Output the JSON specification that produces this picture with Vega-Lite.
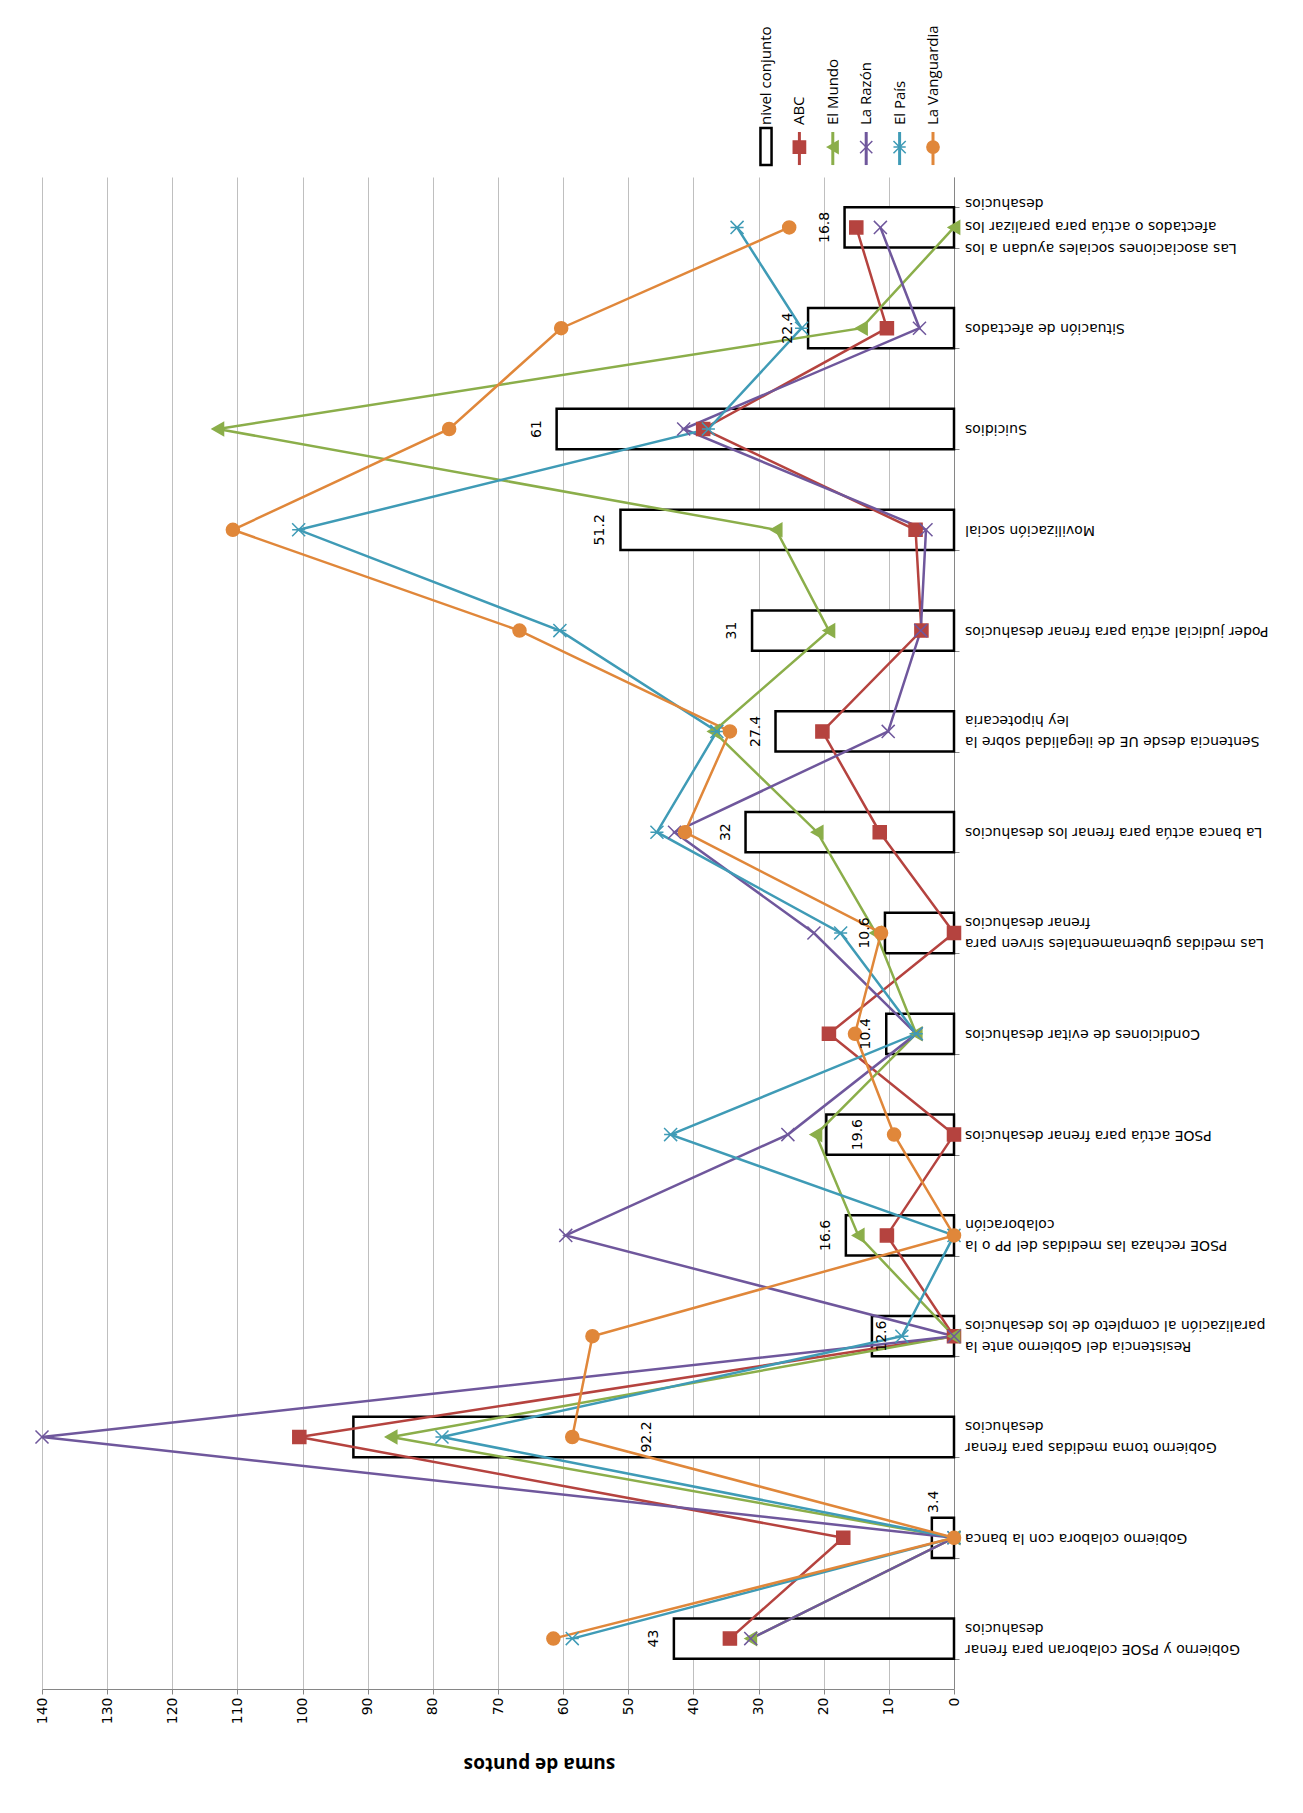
{
  "$schema": "https://vega.github.io/schema/vega-lite/v6.json",
  "background": "white",
  "padding": {"left": 32, "top": 15, "right": 5, "bottom": 5},
  "spacing": 7,
  "config": {"view": {"stroke": null}},
  "resolve": {"scale": {"x": "independent", "y": "independent"}},
  "datasets": {
    "cats": [
      {"n": 1, "lab": ["Gobierno y PSOE colaboran para frenar", "desahucios"], "nivel": 43, "ABC": 34.4, "El Mundo": 31.2, "La Razón": 31.2, "El País": 58.6, "La Vanguardia": 61.5},
      {"n": 2, "lab": ["Gobierno colabora con la banca"], "nivel": 3.4, "ABC": 17, "El Mundo": 0, "La Razón": 0, "El País": 0, "La Vanguardia": 0},
      {"n": 3, "lab": ["Gobierno toma medidas para frenar", "desahucios"], "nivel": 92.2, "ABC": 100.5, "El Mundo": 86.4, "La Razón": 140, "El País": 78.6, "La Vanguardia": 58.6},
      {"n": 4, "lab": ["Resistencia del Gobierno ante la", "paralización al completo de los desahucios"], "nivel": 12.6, "ABC": 0, "El Mundo": 0, "La Razón": 0, "El País": 8, "La Vanguardia": 55.5},
      {"n": 5, "lab": ["PSOE rechaza las medidas del PP o la", "colaboración"], "nivel": 16.6, "ABC": 10.3, "El Mundo": 14.7, "La Razón": 59.6, "El País": 0, "La Vanguardia": 0},
      {"n": 6, "lab": ["PSOE actúa para frenar desahucios"], "nivel": 19.6, "ABC": 0, "El Mundo": 21.2, "La Razón": 25.5, "El País": 43.5, "La Vanguardia": 9.2},
      {"n": 7, "lab": ["Condiciones de evitar desahucios"], "nivel": 10.4, "ABC": 19.2, "El Mundo": 5.8, "La Razón": 5.8, "El País": 5.8, "La Vanguardia": 15.2},
      {"n": 8, "lab": ["Las medidas gubernamentales sirven para", "frenar desahucios"], "nivel": 10.6, "ABC": 0, "El Mundo": 12, "La Razón": 21.5, "El País": 17.4, "La Vanguardia": 11.2},
      {"n": 9, "lab": ["La banca actúa para frenar los desahucios"], "nivel": 32, "ABC": 11.4, "El Mundo": 21, "La Razón": 42.9, "El País": 45.6, "La Vanguardia": 41.3},
      {"n": 10, "lab": ["Sentencia desde UE de ilegalidad sobre la", "ley hipotecaria"], "nivel": 27.4, "ABC": 20.2, "El Mundo": 36.9, "La Razón": 10.1, "El País": 36.4, "La Vanguardia": 34.4},
      {"n": 11, "lab": ["Poder judicial actúa para frenar desahucios"], "nivel": 31, "ABC": 5, "El Mundo": 19.2, "La Razón": 5.1, "El País": 60.5, "La Vanguardia": 66.7},
      {"n": 12, "lab": ["Movilización social"], "nivel": 51.2, "ABC": 5.9, "El Mundo": 27.3, "La Razón": 4.3, "El País": 100.6, "La Vanguardia": 110.7},
      {"n": 13, "lab": ["Suicidios"], "nivel": 61, "ABC": 38.5, "El Mundo": 113, "La Razón": 41.5, "El País": 37.7, "La Vanguardia": 77.5},
      {"n": 14, "lab": ["Situación de afectados"], "nivel": 22.4, "ABC": 10.3, "El Mundo": 14.2, "La Razón": 5.3, "El País": 23.4, "La Vanguardia": 60.3},
      {"n": 15, "lab": ["Las asociaciones sociales ayudan a los", "afectados o actúa para paralizar los", "desahucios"], "nivel": 16.8, "ABC": 15, "El Mundo": 0, "La Razón": 11.3, "El País": 33.3, "La Vanguardia": 25.3}
    ],
    "series": [
      {"serie": "nivel conjunto"},
      {"serie": "ABC"},
      {"serie": "El Mundo"},
      {"serie": "La Razón"},
      {"serie": "El País"},
      {"serie": "La Vanguardia"}
    ]
  },
  "vconcat": [
    {
      "width": 912,
      "height": 155,
      "data": {"name": "series"},
      "encoding": {
        "x": {
          "field": "serie",
          "type": "nominal",
          "axis": null,
          "scale": {
            "type": "point",
            "domain": ["nivel conjunto", "ABC", "El Mundo", "La Razón", "El País", "La Vanguardia"],
            "range": [724, 891],
            "padding": 0
          }
        }
      },
      "layer": [
        {
          "transform": [{"filter": "datum.serie !== 'nivel conjunto'"}],
          "mark": {"type": "rule", "strokeWidth": 3},
          "encoding": {
            "y": {"datum": 0.032, "type": "quantitative", "scale": {"domain": [0, 1]}, "axis": null},
            "y2": {"datum": 0.245},
            "stroke": {
              "field": "serie",
              "type": "nominal",
              "legend": null,
              "scale": {"domain": ["ABC", "El Mundo", "La Razón", "El País", "La Vanguardia"], "range": ["#B5433F", "#8BAE4A", "#6F579C", "#3F9BB6", "#E0873A"]}
            }
          }
        },
        {
          "transform": [{"filter": "datum.serie !== 'nivel conjunto'"}],
          "mark": {"type": "point", "filled": true, "size": 150, "strokeWidth": 1.5, "opacity": 1},
          "encoding": {
            "y": {"datum": 0.148, "type": "quantitative", "scale": {"domain": [0, 1]}, "axis": null},
            "fill": {
              "field": "serie",
              "type": "nominal",
              "legend": null,
              "scale": {"domain": ["ABC", "El Mundo", "La Razón", "El País", "La Vanguardia"], "range": ["#B5433F", "#8BAE4A", "#6F579C", "#3F9BB6", "#E0873A"]}
            },
            "stroke": {"field": "serie", "type": "nominal", "legend": null},
            "shape": {
              "field": "serie",
              "type": "nominal",
              "legend": null,
              "scale": {"domain": ["ABC", "El Mundo", "La Razón", "El País", "La Vanguardia"], "range": ["square", "triangle-left", "M-1,-1L1,1M1,-1L-1,1", "M-1,-1L1,1M1,-1L-1,1M-1,0L1,0", "circle"]}
            }
          }
        },
        {
          "transform": [{"filter": "datum.serie === 'nivel conjunto'"}],
          "mark": {"type": "point", "shape": "M-0.3,-1H0.3V1H-0.3Z", "size": 1369, "filled": false, "stroke": "black", "strokeWidth": 2.5, "opacity": 1},
          "encoding": {
            "y": {"datum": 0.152, "type": "quantitative", "scale": {"domain": [0, 1]}, "axis": null}
          }
        },
        {
          "mark": {"type": "text", "angle": 270, "align": "left", "baseline": "middle", "font": "Open Sans", "fontSize": 15, "color": "black"},
          "encoding": {
            "y": {"datum": 0.29, "type": "quantitative", "scale": {"domain": [0, 1]}, "axis": null},
            "text": {"field": "serie", "type": "nominal"}
          }
        }
      ]
    },
    {
      "width": 912,
      "height": 1512,
      "data": {"name": "cats"},
      "encoding": {
        "y": {
          "field": "n",
          "type": "ordinal",
          "sort": "descending",
          "scale": {"paddingInner": 0.6, "paddingOuter": 0.3},
          "axis": {
            "orient": "right",
            "title": null,
            "labels": false,
            "tickBand": "extent",
            "tickSize": 5,
            "tickColor": "#868686",
            "domainColor": "#868686",
            "grid": false
          }
        }
      },
      "layer": [
        {
          "mark": {"type": "bar", "fill": "white", "stroke": "black", "strokeWidth": 2.5},
          "encoding": {
            "x": {
              "field": "nivel",
              "type": "quantitative",
              "scale": {"domain": [0, 140], "reverse": true, "nice": false},
              "axis": {
                "values": [0, 10, 20, 30, 40, 50, 60, 70, 80, 90, 100, 110, 120, 130, 140],
                "grid": true,
                "gridColor": "#BFBFBF",
                "gridWidth": 1,
                "labelAngle": 270,
                "labelAlign": "right",
                "labelBaseline": "middle",
                "labelFont": "DejaVu Sans",
                "labelFontSize": 14,
                "labelColor": "black",
                "labelPadding": 3,
                "tickSize": 5,
                "tickColor": "#868686",
                "domainColor": "#868686",
                "title": "suma de puntos",
                "titleFont": "Open Sans",
                "titleFontSize": 19,
                "titleFontWeight": "bold",
                "titleColor": "black",
                "titleAngle": 180,
                "titleBaseline": "bottom",
                "titlePadding": 30,
                "titleX": 497
              }
            }
          }
        },
        {
          "transform": [{"filter": "datum.n == 2 || datum.n == 6 || datum.n == 7 || datum.n == 9 || datum.n == 11 || datum.n == 12 || datum.n == 13 || datum.n == 14"}],
          "mark": {"type": "text", "angle": 180, "align": "right", "baseline": "middle", "dx": -11, "font": "DejaVu Sans", "fontSize": 14, "lineHeight": 22, "color": "black"},
          "encoding": {
            "x": {"datum": 0, "type": "quantitative"},
            "text": {"field": "lab", "type": "nominal"}
          }
        },
        {
          "transform": [{"filter": "datum.n == 1 || datum.n == 3 || datum.n == 4 || datum.n == 5 || datum.n == 8 || datum.n == 10"}],
          "mark": {"type": "text", "angle": 180, "align": "right", "baseline": "middle", "dx": -11, "dy": -10, "font": "DejaVu Sans", "fontSize": 14, "lineHeight": 21, "color": "black"},
          "encoding": {
            "x": {"datum": 0, "type": "quantitative"},
            "text": {"field": "lab", "type": "nominal"}
          }
        },
        {
          "transform": [{"filter": "datum.n == 15"}],
          "mark": {"type": "text", "angle": 180, "align": "right", "baseline": "middle", "dx": -11, "dy": -21, "font": "DejaVu Sans", "fontSize": 14, "lineHeight": 22.5, "color": "black"},
          "encoding": {
            "x": {"datum": 0, "type": "quantitative"},
            "text": {"field": "lab", "type": "nominal"}
          }
        },
        {
          "transform": [{"fold": ["ABC", "El Mundo", "La Razón", "El País", "La Vanguardia"], "as": ["serie", "v"]}],
          "mark": {"type": "line", "strokeWidth": 2.5},
          "encoding": {
            "x": {"field": "v", "type": "quantitative"},
            "stroke": {"field": "serie", "type": "nominal", "legend": null},
            "order": {"field": "n", "type": "quantitative"}
          }
        },
        {
          "transform": [{"fold": ["ABC", "El Mundo", "La Razón", "El País", "La Vanguardia"], "as": ["serie", "v"]}],
          "mark": {"type": "point", "filled": true, "size": 170, "strokeWidth": 1.5, "opacity": 1},
          "encoding": {
            "x": {"field": "v", "type": "quantitative"},
            "fill": {"field": "serie", "type": "nominal", "legend": null},
            "stroke": {"field": "serie", "type": "nominal", "legend": null},
            "shape": {"field": "serie", "type": "nominal", "legend": null}
          }
        },
        {
          "transform": [{"filter": "datum.n != 2 && datum.n != 3 && datum.n != 4 && datum.n != 6"}],
          "mark": {"type": "text", "angle": 270, "align": "center", "baseline": "middle", "dy": -20, "font": "DejaVu Sans", "fontSize": 14, "color": "black"},
          "encoding": {
            "x": {"field": "nivel", "type": "quantitative"},
            "text": {"field": "nivel", "type": "quantitative"}
          }
        },
        {
          "transform": [{"filter": "datum.n == 2"}],
          "mark": {"type": "text", "angle": 270, "align": "center", "baseline": "middle", "dx": 36, "dy": 2, "font": "DejaVu Sans", "fontSize": 14, "color": "black"},
          "encoding": {
            "x": {"field": "nivel", "type": "quantitative"},
            "text": {"field": "nivel", "type": "quantitative"}
          }
        },
        {
          "transform": [{"filter": "datum.n == 3"}],
          "mark": {"type": "text", "angle": 270, "align": "center", "baseline": "middle", "dy": 294, "font": "DejaVu Sans", "fontSize": 14, "color": "black"},
          "encoding": {
            "x": {"field": "nivel", "type": "quantitative"},
            "text": {"field": "nivel", "type": "quantitative"}
          }
        },
        {
          "transform": [{"filter": "datum.n == 4"}],
          "mark": {"type": "text", "angle": 270, "align": "center", "baseline": "middle", "dy": 10, "font": "DejaVu Sans", "fontSize": 14, "color": "black"},
          "encoding": {
            "x": {"field": "nivel", "type": "quantitative"},
            "text": {"field": "nivel", "type": "quantitative"}
          }
        },
        {
          "transform": [{"filter": "datum.n == 6"}],
          "mark": {"type": "text", "angle": 270, "align": "center", "baseline": "middle", "dy": 32, "font": "DejaVu Sans", "fontSize": 14, "color": "black"},
          "encoding": {
            "x": {"field": "nivel", "type": "quantitative"},
            "text": {"field": "nivel", "type": "quantitative"}
          }
        }
      ]
    }
  ]
}
